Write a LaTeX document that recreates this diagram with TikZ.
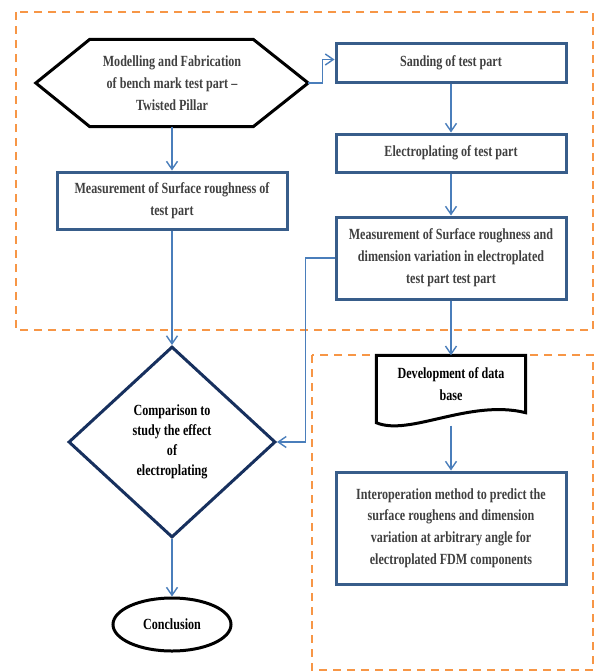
\documentclass[tikz,border=0pt]{standalone}
\usepackage{fontspec}
\setmainfont{Liberation Serif}[FakeStretch=0.78]
\usetikzlibrary{arrows.meta,shapes.geometric,calc}
\definecolor{orng}{HTML}{F79646}
\definecolor{boxblue}{HTML}{385D8A}
\definecolor{navy}{HTML}{17305E}
\definecolor{arrblue}{HTML}{4A7EBB}
\definecolor{txtgray}{HTML}{404040}
\begin{document}
\begin{tikzpicture}[x=1pt,y=-1pt,
  txt/.style={font=\fontsize{15.5}{22}\selectfont\bfseries, align=center, inner sep=0pt},
  bluebox/.style={txt, draw=boxblue, line width=3pt, fill=white, text=txtgray, minimum width=230pt},
  arr/.style={draw=arrblue, line width=1.4pt, -{Straight Barb[length=8pt,width=11pt,line width=1.4pt]}},
  dashbox/.style={draw=orng, line width=2.5pt, dash pattern=on 8pt off 6pt}]
\useasboundingbox (0,0) rectangle (595,672);
% dashed group frames
\draw[dashbox] (16,12) rectangle (593,330);
\draw[dashbox] (312,355) rectangle (593,670);
% nodes
\node[txt, text=txtgray, minimum width=272pt, minimum height=87pt] (hex) at (172,83)
  {Modelling and Fabrication\\of bench mark test part --\\Twisted Pillar};
\draw[line width=3pt, line join=miter]
  (hex.west) -- ($(hex.north west)+(54,0)$) -- ($(hex.north east)+(-55,0)$) -- (hex.east)
  -- ($(hex.south east)+(-55,0)$) -- ($(hex.south west)+(54,0)$) -- cycle;
\node[bluebox, minimum height=39pt] (sand) at (451,62.5) {Sanding of test part};
\node[bluebox, minimum height=38pt] (elec) at (451,153) {Electroplating of test part};
\node[bluebox, minimum height=82pt] (mright) at (451,258)
  {Measurement of Surface roughness and\\dimension variation in electroplated\\test part test part};
\node[bluebox, minimum height=57pt] (mleft) at (172,200.5)
  {Measurement of Surface roughness of\\test part};
\node[txt, diamond, draw=navy, line width=3pt, fill=white, minimum width=207pt, minimum height=191pt,
  font=\fontsize{15.5}{20}\selectfont\bfseries] (dia) at (172,442)
  {Comparison to\\study the effect\\of\\electroplating};
\node[txt, ellipse, draw=black, line width=3pt, fill=white, minimum width=118pt, minimum height=53pt] (concl)
  at (172,624.5) {Conclusion};
\node[txt, minimum width=149pt, minimum height=57pt] (doc) at (451,384)
  {Development of data\\base};
\draw[line width=3pt, fill=white, line join=miter]
  (doc.south east) -- (doc.north east) -- (doc.north west) -- ($(doc.south west)+(0,10)$)
  .. controls ($(doc.south west)+(33,24)$) and ($(doc.south east)+(-56,-14)$) .. (doc.south east) -- cycle;
\node[txt] at (doc.center) {Development of data\\base};
\node[bluebox, minimum height=112pt, font=\fontsize{15.5}{21.7}\selectfont\bfseries] (inter) at (451,528)
  {Interoperation method to predict the\\surface roughens and dimension\\variation at arbitrary angle for\\electroplated FDM components};
\coordinate (docb) at ($(doc.south)+(0,13)$);
% connectors
\draw[arr] (hex.east) -- ++(14,0) |- ($(sand.west)+(0,-3)$);
\draw[arr] (sand.south) -- (elec.north);
\draw[arr] (elec.south) -- (mright.north);
\draw[arr] (hex.south) -- (mleft.north);
\draw[arr] (mleft.south) -- (dia.north);
\draw[arr] (mright.west) -- ++(-29,0) |- (dia.east);
\draw[arr] (mright.south) -- (doc.north);
\draw[arr] (docb) -- (inter.north);
\draw[arr] (dia.south) -- (concl.north);
\end{tikzpicture}
\end{document}
